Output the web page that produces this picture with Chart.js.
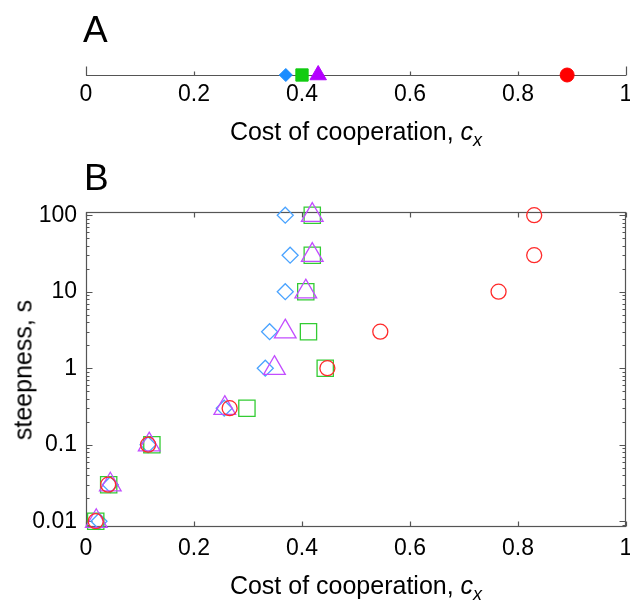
<!DOCTYPE html>
<html>
<head>
<meta charset="utf-8">
<title>Cost of cooperation vs steepness</title>
<script src="https://cdn.jsdelivr.net/npm/chart.js@4.4.1/dist/chart.umd.min.js"></script>
<style>
    html, body {
        margin: 0;
        padding: 0;
        background: #fff;
        overflow: hidden;
    }
    #page {
        position: relative;
        width: 630px;
        height: 605px;
        overflow: hidden;
        font-family: "Liberation Sans", Arial, sans-serif;
        color: #000;
    }
    canvas {
        position: absolute;
        left: 0;
    }
    #chartA { top: 0; }
    #chartB { top: 160px; }
    .panel-letter {
        position: absolute;
        font-size: 37px;
        line-height: 1;
    }
    .axis-title {
        position: absolute;
        font-size: 25px;
        line-height: 1;
        white-space: nowrap;
    }
    .axis-title sub {
        font-size: 18px;
        line-height: 0;
        vertical-align: -6px;
    }
    .x-title {
        left: 356px;
        transform: translateX(-50%);
    }
    .y-title {
        left: 23px;
        top: 370px;
        transform: translate(-50%, -50%) rotate(-90deg);
    }
</style>
</head>
<body>
<div id="page">
    <canvas id="chartA" width="660" height="160"></canvas>
    <canvas id="chartB" width="660" height="445"></canvas>
    <div class="panel-letter" style="left:83px; top:11px;">A</div>
    <div class="panel-letter" style="left:84px; top:159px;">B</div>
    <div class="axis-title x-title" style="top:119px;">Cost of cooperation, <i>c</i><sub><i>x</i></sub></div>
    <div class="axis-title x-title" style="top:573px;">Cost of cooperation, <i>c</i><sub><i>x</i></sub></div>
    <div class="axis-title y-title">steepness, s</div>
</div>
<script>
// panel A: one threshold cost per strategy (blue, green, purple, red)
const panelACosts = [0.370, 0.400, 0.430, 0.891];

// panel B: steepness values and the cost found for each strategy
const steepness = [0.01, 0.03, 0.1, 0.3, 1, 3, 10, 30, 100];
const costBlue = [0.024, 0.045, 0.115, 0.256, 0.332, 0.340, 0.369, 0.378, 0.369];
const costGreen = [0.018, 0.042, 0.122, 0.298, 0.443, 0.412, 0.407, 0.419, 0.419];
const costPurple = [0.019, 0.045, 0.117, 0.257, 0.349, 0.369, 0.407, 0.419, 0.419];
const costRed = [0.018, 0.041, 0.115, 0.266, 0.447, 0.545, 0.764, 0.830, 0.830];

const xTicks = [0, 0.2, 0.4, 0.6, 0.8, 1];
const xTickLabels = ['0', '0.2', '0.4', '0.6', '0.8', '1'];
const yTicks = [0.01, 0.1, 1, 10, 100];
const yTickLabels = ['0.01', '0.1', '1', '10', '100'];

const colors = {
    blue: '#1a8cff',
    green: '#11cc11',
    purple: '#b400ff',
    red: '#ff0000'
};

const openColors = {
    blue: '#4aa3ff',
    green: '#33cc33',
    purple: '#c24dff',
    red: '#ff2a2a'
};

Chart.defaults.font.family = '"Liberation Sans", Arial, sans-serif';
Chart.defaults.color = '#000';

const tickFont = { size: 23 };

function toPoints(costs) {
    return steepness.map((s, i) => ({ x: costs[i], y: s }));
}

// line with upward ticks, like the 1-D axis of panel A
const lineAxisPlugin = {
    id: 'lineAxis',
    beforeDatasetsDraw(chart) {
        const { ctx, chartArea: a, scales: { x } } = chart;
        const yLine = Math.round(a.bottom) + 0.5;
        ctx.save();
        ctx.strokeStyle = '#555';
        ctx.lineWidth = 1.2;
        ctx.beginPath();
        ctx.moveTo(a.left, yLine);
        ctx.lineTo(a.right, yLine);
        xTicks.forEach((v, i) => {
            const px = Math.round(x.getPixelForValue(v)) + 0.5;
            const len = (i === 0 || i === xTicks.length - 1) ? 9 : 4;
            ctx.moveTo(px, yLine);
            ctx.lineTo(px, yLine - len);
        });
        ctx.stroke();
        ctx.restore();
    }
};

// box frame with inward ticks and log minor ticks for panel B
const framePlugin = {
    id: 'frameB',
    beforeDatasetsDraw(chart) {
        const { ctx, chartArea: a, scales: { x, y } } = chart;
        const left = Math.round(a.left) + 0.5;
        const right = Math.round(a.right) - 0.5;
        const top = Math.round(a.top) + 0.5;
        const bottom = Math.round(a.bottom) - 0.5;
        ctx.save();
        ctx.strokeStyle = '#555';
        ctx.lineWidth = 1.2;
        ctx.strokeRect(left, top, right - left, bottom - top);

        ctx.beginPath();
        xTicks.forEach(v => {
            const px = Math.round(x.getPixelForValue(v)) + 0.5;
            ctx.moveTo(px, bottom);
            ctx.lineTo(px, bottom - 5);
            ctx.moveTo(px, top);
            ctx.lineTo(px, top + 5);
        });
        for (let e = -3; e <= 2; e++) {
            for (let m = 1; m <= 9; m++) {
                const v = m * Math.pow(10, e);
                if (v < y.min || v > y.max) continue;
                const py = Math.round(y.getPixelForValue(v)) + 0.5;
                const len = m === 1 ? 6 : 3;
                ctx.moveTo(left, py);
                ctx.lineTo(left + len, py);
                ctx.moveTo(right, py);
                ctx.lineTo(right - len, py);
            }
        }
        ctx.stroke();
        ctx.restore();
    }
};

function initChartA() {
    const ctx = document.getElementById('chartA');
    const styles = ['rectRot', 'rect', 'triangle', 'circle'];
    const radii = [6.5, 8.7, 9.5, 7];
    const keys = ['blue', 'green', 'purple', 'red'];

    new Chart(ctx, {
        type: 'scatter',
        data: {
            datasets: keys.map((k, i) => ({
                label: k,
                data: [{ x: panelACosts[i], y: 0 }],
                pointStyle: styles[i],
                pointRadius: radii[i],
                backgroundColor: colors[k],
                borderColor: colors[k],
                borderWidth: 1,
                clip: false
            }))
        },
        options: {
            responsive: false,
            animation: false,
            devicePixelRatio: 1,
            events: [],
            layout: { padding: { top: 55, left: 86, right: 34, bottom: 0 } },
            plugins: {
                legend: { display: false },
                tooltip: { enabled: false }
            },
            scales: {
                x: {
                    type: 'linear',
                    min: 0,
                    max: 1,
                    bounds: 'data',
                    grid: { display: false, drawTicks: false },
                    border: { display: false },
                    afterBuildTicks: scale => {
                        scale.ticks = xTicks.map(v => ({ value: v }));
                    },
                    afterFit: scale => { scale.height = 85; },
                    ticks: {
                        font: tickFont,
                        padding: 6,
                        maxRotation: 0,
                        autoSkip: false,
                        callback: (value, index) => xTickLabels[index]
                    }
                },
                y: {
                    display: false,
                    min: 0,
                    max: 1
                }
            }
        },
        plugins: [lineAxisPlugin]
    });
}

function initChartB() {
    const ctx = document.getElementById('chartB');

    // first dataset is drawn on top
    const series = [
        { key: 'red', costs: costRed, style: 'circle', radius: 7.5 },
        { key: 'purple', costs: costPurple, style: 'triangle', radius: 12.5 },
        { key: 'green', costs: costGreen, style: 'rect', radius: 11.5 },
        { key: 'blue', costs: costBlue, style: 'rectRot', radius: 8 }
    ];

    new Chart(ctx, {
        type: 'scatter',
        data: {
            datasets: series.map(s => ({
                label: s.key,
                data: toPoints(s.costs),
                pointStyle: s.style,
                pointRadius: s.radius,
                backgroundColor: 'rgba(0,0,0,0)',
                borderColor: openColors[s.key],
                borderWidth: 1.3,
                clip: false
            }))
        },
        options: {
            responsive: false,
            animation: false,
            devicePixelRatio: 1,
            events: [],
            layout: { padding: { top: 52, left: 0, right: 34, bottom: 0 } },
            plugins: {
                legend: { display: false },
                tooltip: { enabled: false }
            },
            scales: {
                x: {
                    type: 'linear',
                    min: 0,
                    max: 1,
                    bounds: 'data',
                    grid: { display: false, drawTicks: false },
                    border: { display: false },
                    afterBuildTicks: scale => {
                        scale.ticks = xTicks.map(v => ({ value: v }));
                    },
                    afterFit: scale => { scale.height = 78; },
                    ticks: {
                        font: tickFont,
                        padding: 8,
                        maxRotation: 0,
                        autoSkip: false,
                        callback: (value, index) => xTickLabels[index]
                    }
                },
                y: {
                    type: 'logarithmic',
                    min: 0.0084,
                    max: 110,
                    bounds: 'data',
                    grid: { display: false, drawTicks: false },
                    border: { display: false },
                    afterBuildTicks: scale => {
                        scale.ticks = yTicks.map(v => ({ value: v }));
                    },
                    afterFit: scale => { scale.width = 86; },
                    ticks: {
                        font: tickFont,
                        padding: 9,
                        autoSkip: false,
                        callback: (value, index) => yTickLabels[index]
                    }
                }
            }
        },
        plugins: [framePlugin]
    });
}

initChartA();
initChartB();
</script>
</body>
</html>
